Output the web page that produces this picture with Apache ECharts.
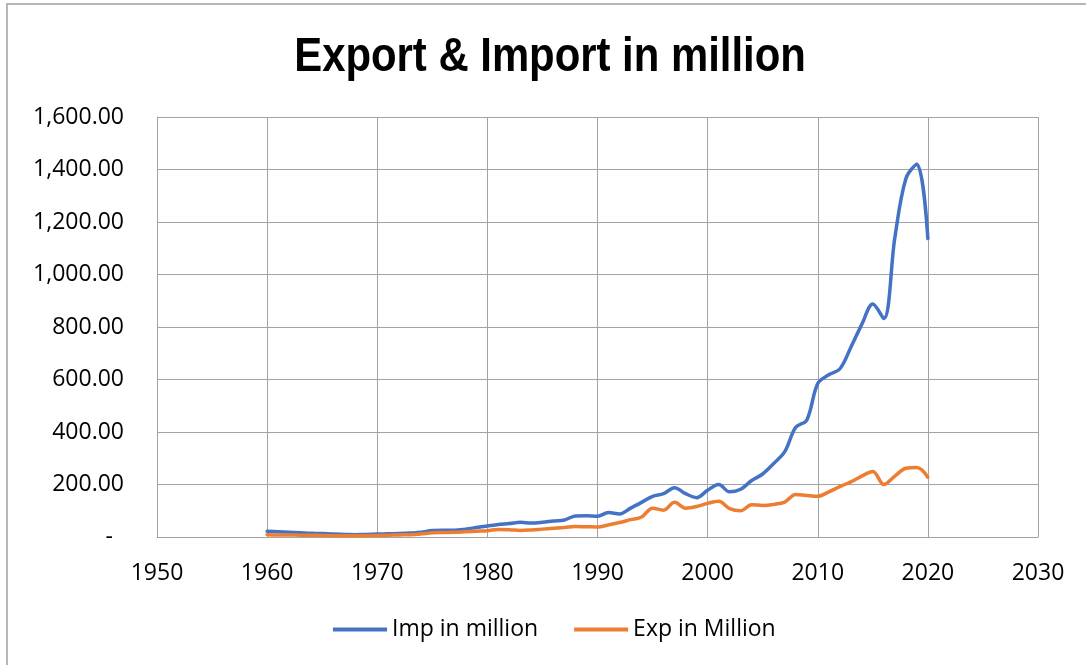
<!DOCTYPE html>
<html>
<head>
<meta charset="utf-8">
<style>
  html, body { margin: 0; padding: 0; background: #ffffff; }
  #chart { width: 1086px; height: 665px; }
</style>
<script src="https://cdn.jsdelivr.net/npm/echarts@6/dist/echarts.min.js"></script>
</head>
<body>
<div id="chart"></div>
<script>
// Yearly trade figures, in millions
const years = [
  1960, 1961, 1962, 1963, 1964, 1965, 1966, 1967, 1968, 1969,
  1970, 1971, 1972, 1973, 1974, 1975, 1976, 1977, 1978, 1979,
  1980, 1981, 1982, 1983, 1984, 1985, 1986, 1987, 1988, 1989,
  1990, 1991, 1992, 1993, 1994, 1995, 1996, 1997, 1998, 1999,
  2000, 2001, 2002, 2003, 2004, 2005, 2006, 2007, 2008, 2009,
  2010, 2011, 2012, 2013, 2014, 2015, 2016, 2017, 2018, 2019,
  2020
];

const importsMillion = [
  22, 20, 18, 16, 14, 13, 11, 10, 9, 10,
  11, 12, 13, 15, 18, 25, 26, 26, 30, 36,
  42, 48, 51, 56, 53, 56, 61, 65, 80, 81,
  79, 93, 88, 110, 132, 155, 165, 188, 165, 150,
  178, 200, 172, 182, 215, 240, 280, 325, 418, 445,
  585, 618, 640, 722, 810, 888, 832, 1140, 1365, 1420,
  1137
];

const exportsMillion = [
  9, 8, 8, 7, 7, 6, 5, 5, 5, 5,
  6, 7, 8, 9, 12, 16, 17, 18, 20, 22,
  24, 29, 28, 25, 27, 30, 33, 36, 40, 39,
  38, 46, 55, 66, 76, 110, 102, 132, 110, 116,
  128, 136, 108, 100, 123, 120, 124, 133, 162, 158,
  155, 172, 192, 210, 232, 250, 200, 232, 262, 265,
  228
];

const seriesNames = ['Imp in million', 'Exp in Million'];
const titleText = 'Export & Import in million';

const gridGray = '#a3a3a3';
const labelFont = "'Open Sans', 'Liberation Sans', sans-serif";

function pairs(values) {
  return years.map((y, i) => [y, values[i]]);
}

function formatValue(v) {
  if (v === 0) return '{dash|-}';
  return v.toLocaleString('en-US', { minimumFractionDigits: 2, maximumFractionDigits: 2 });
}

const chart = echarts.init(document.getElementById('chart'), null, { renderer: 'canvas' });

chart.setOption({
  backgroundColor: '#ffffff',
  animation: false,
  graphic: [
    {
      // chart frame
      type: 'rect',
      shape: { x: 7, y: 4, width: 1200, height: 1000 },
      style: { fill: 'none', stroke: '#a0a0a0', lineWidth: 1.5 },
      silent: true,
      z: -10
    },
    {
      // heading, set in a condensed bold face
      type: 'text',
      x: 550,
      y: 58,
      scaleX: 0.872,
      style: {
        text: titleText,
        fontFamily: "'Liberation Sans', Arial, sans-serif",
        fontWeight: 'bold',
        fontSize: 48,
        fill: '#000000',
        textAlign: 'center',
        textVerticalAlign: 'middle'
      },
      silent: true
    }
  ],
  legend: {
    left: 328,
    top: 613,
    icon: 'rect',
    itemWidth: 54,
    itemHeight: 4,
    itemGap: 36,
    textStyle: { fontFamily: labelFont, fontSize: 23, color: '#000000' },
    data: seriesNames
  },
  grid: {
    left: 157,
    right: 48,
    top: 117,
    bottom: 128,
    containLabel: false
  },
  xAxis: {
    type: 'value',
    min: 1950,
    max: 2030,
    interval: 10,
    axisLine: { show: true, lineStyle: { color: gridGray, width: 1 } },
    axisTick: { show: false },
    splitLine: { show: true, lineStyle: { color: gridGray, width: 1 } },
    axisLabel: {
      margin: 25,
      fontFamily: labelFont,
      fontSize: 23,
      color: '#000000',
      formatter: v => String(v)
    }
  },
  yAxis: {
    type: 'value',
    min: 0,
    max: 1600,
    interval: 200,
    axisLine: { show: true, lineStyle: { color: gridGray, width: 1 } },
    axisTick: { show: false },
    splitLine: { show: true, lineStyle: { color: gridGray, width: 1 } },
    axisLabel: {
      margin: 33,
      fontFamily: labelFont,
      fontSize: 23,
      color: '#000000',
      formatter: formatValue,
      rich: {
        dash: { fontFamily: labelFont, fontSize: 23, color: '#000000', padding: [0, 11, 0, 0] }
      }
    }
  },
  series: [
    {
      name: seriesNames[0],
      type: 'line',
      data: pairs(importsMillion),
      smooth: 0.35,
      symbol: 'none',
      color: '#4472c4',
      lineStyle: { width: 3.5, color: '#4472c4', cap: 'round', join: 'round' },
      z: 3
    },
    {
      name: seriesNames[1],
      type: 'line',
      data: pairs(exportsMillion),
      smooth: 0.35,
      symbol: 'none',
      color: '#ed7d31',
      lineStyle: { width: 3.5, color: '#ed7d31', cap: 'round', join: 'round' },
      z: 4
    }
  ]
});
</script>
</body>
</html>
